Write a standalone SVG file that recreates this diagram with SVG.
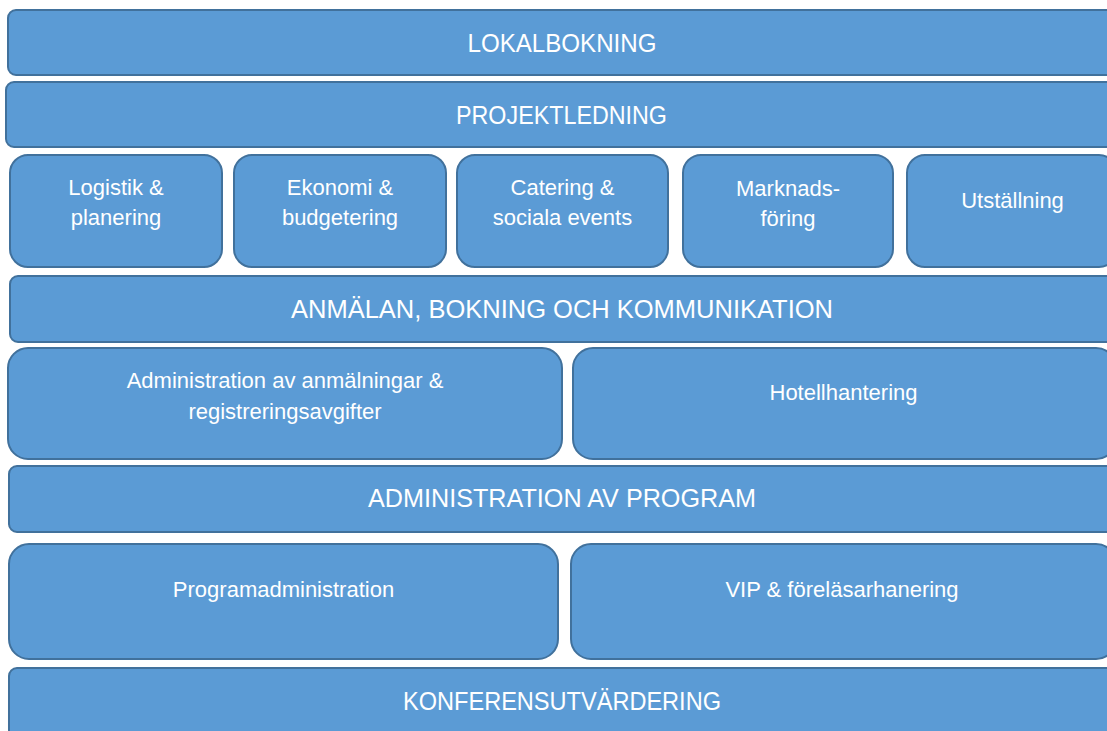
<svg xmlns="http://www.w3.org/2000/svg" width="1107" height="731" viewBox="0 0 1107 731">
  <style>
    .box { fill: #5B9BD5; stroke: #41719C; stroke-width: 2; }
    .t { fill: #FFFFFF; font-family: "Liberation Sans", Arial, sans-serif; text-anchor: middle; }
    .big { font-size: 25.5px; }
    .small { font-size: 22px; }
  </style>
  <rect x="0" y="0" width="1107" height="731" fill="#FFFFFF"/>

  <!-- Layered process blocks, top to bottom -->
  <g id="lokalbokning">
    <rect class="box" x="8" y="10" width="1108" height="65" rx="8"/>
    <text class="t big" x="562" y="52" textLength="189" lengthAdjust="spacingAndGlyphs">LOKALBOKNING</text>
  </g>

  <g id="projektledning">
    <rect class="box" x="6" y="82" width="1110" height="65" rx="8"/>
    <text class="t big" x="561.5" y="124" textLength="211" lengthAdjust="spacingAndGlyphs">PROJEKTLEDNING</text>
  </g>

  <g id="logistik">
    <rect class="box" x="10" y="155" width="212" height="112" rx="18"/>
    <text class="t small" x="116" y="195">Logistik &amp;</text>
    <text class="t small" x="116" y="225">planering</text>
  </g>

  <g id="ekonomi">
    <rect class="box" x="234" y="155" width="212" height="112" rx="18"/>
    <text class="t small" x="340" y="195">Ekonomi &amp;</text>
    <text class="t small" x="340" y="225">budgetering</text>
  </g>

  <g id="catering">
    <rect class="box" x="457" y="155" width="211" height="112" rx="18"/>
    <text class="t small" x="562.5" y="195">Catering &amp;</text>
    <text class="t small" x="562.5" y="225">sociala events</text>
  </g>

  <g id="marknadsforing">
    <rect class="box" x="683" y="155" width="210" height="112" rx="18"/>
    <text class="t small" x="788" y="196">Marknads-</text>
    <text class="t small" x="788" y="226">föring</text>
  </g>

  <g id="utstallning">
    <rect class="box" x="907" y="155" width="210" height="112" rx="18"/>
    <text class="t small" x="1012.5" y="208">Utställning</text>
  </g>

  <g id="anmalan">
    <rect class="box" x="10" y="276" width="1106" height="66" rx="8"/>
    <text class="t big" x="562" y="318" textLength="542" lengthAdjust="spacingAndGlyphs">ANMÄLAN, BOKNING OCH KOMMUNIKATION</text>
  </g>

  <g id="administration-anmalningar">
    <rect class="box" x="8" y="348" width="554" height="111" rx="20"/>
    <text class="t small" x="285" y="388">Administration av anmälningar &amp;</text>
    <text class="t small" x="285" y="419">registreringsavgifter</text>
  </g>

  <g id="hotellhantering">
    <rect class="box" x="573" y="348" width="543" height="111" rx="20"/>
    <text class="t small" x="843.5" y="400">Hotellhantering</text>
  </g>

  <g id="administration-program">
    <rect class="box" x="9" y="466" width="1107" height="66" rx="8"/>
    <text class="t big" x="562" y="507" textLength="388" lengthAdjust="spacingAndGlyphs">ADMINISTRATION AV PROGRAM</text>
  </g>

  <g id="programadministration">
    <rect class="box" x="9" y="544" width="549" height="115" rx="20"/>
    <text class="t small" x="283.5" y="597">Programadministration</text>
  </g>

  <g id="vip">
    <rect class="box" x="571" y="544" width="545" height="115" rx="20"/>
    <text class="t small" x="842" y="597">VIP &amp; föreläsarhanering</text>
  </g>

  <g id="konferensutvardering">
    <rect class="box" x="9" y="668" width="1107" height="70" rx="8"/>
    <text class="t big" x="562" y="710" textLength="318" lengthAdjust="spacingAndGlyphs">KONFERENSUTVÄRDERING</text>
  </g>

  <!-- No connectors: the blocks are stacked layers -->
  <g id="connectors"/>
</svg>
